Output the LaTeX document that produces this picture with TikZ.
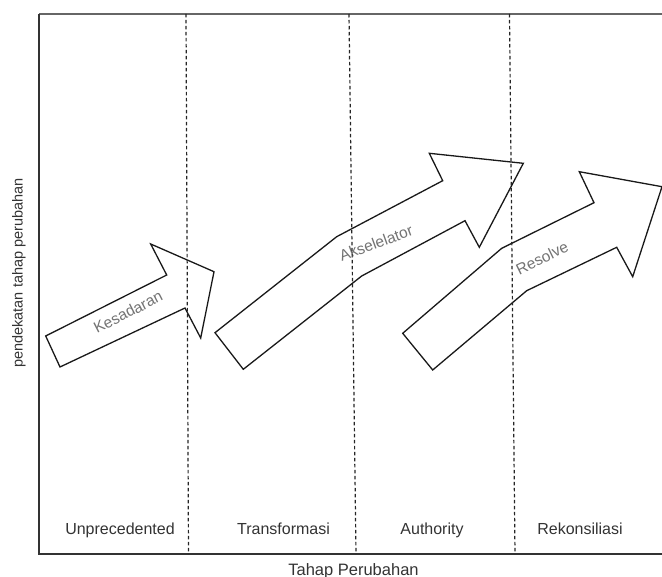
\documentclass[tikz,border=0pt]{standalone}
\usepackage{fontspec}
\setmainfont{Liberation Sans}
\usetikzlibrary{positioning}

\begin{document}
\begin{tikzpicture}[x=1pt,y=-1pt,line join=miter,
    phase/.style={text=black!80,font=\fontsize{16}{19}\selectfont,anchor=base},
    flow/.style={draw=black!90,line width=1.3pt},
    flowlabel/.style={text=black!55,font=\fontsize{15.5}{18}\selectfont},
    divider/.style={dashed,dash pattern=on 3.5pt off 2.5pt,line width=1.2pt,draw=black!85}]
    \useasboundingbox (0,0) rectangle (662,577);

    % frame
    \coordinate (tl) at (39,14); \coordinate (bl) at (39,554);
    \coordinate (tr) at (662,14); \coordinate (br) at (662,554);
    \draw[line width=2pt,draw=black!60] (tl) -- (tr);
    \draw[line width=1.5pt,draw=black!80] (tl) -- (bl) -- (br);

    % arrows
    \draw[flow] (45.7,336) -- (166.7,275) -- (150.7,244) -- (214,271.7)
    -- (200.7,338) -- (185,308) -- (60,367) -- cycle;
    \draw[flow] (215,332.7) -- (336.7,236.7) -- (442.7,180.7) -- (429.3,153.3)
    -- (523.3,163.3) -- (479.3,247.3) -- (465,220.7) -- (361.7,276)
    -- (243.3,369.3) -- cycle;
    \draw[flow] (402.7,333.3) -- (501.7,248.3) -- (594,202.7) -- (579.3,171.7)
    -- (662,186.7) -- (632.7,276.7) -- (616.7,247.3) -- (526.7,290.7)
    -- (432.7,370) -- cycle;

    \node[flowlabel,rotate=27] (kesadaran) at (128,312) {Kesadaran};
    \node[flowlabel,rotate=20] (akselelator) at (376,243) {Akselelator};
    \node[flowlabel,rotate=26] (resolve) at (542,258) {Resolve};

    % dashed dividers
    \foreach \t/\b [count=\i] in {186/188.5,349/356,509.5/515} {
      \coordinate (d\i) at (\t,14); \coordinate (e\i) at (\b,554);
      \draw[divider] (d\i) -- (e\i);}

    % phases
    \node[phase] (unprecedented) at (120,534.3) {Unprecedented};
    \node[phase] (transformasi) at (283.5,534.3) {Transformasi};
    \node[phase] (authority) at (432,534.3) {Authority};
    \node[phase] (rekonsiliasi) at (580,534.3) {Rekonsiliasi};

    % axis titles
    \node[phase,font=\fontsize{16.5}{19}\selectfont] (xtitle) at (353.5,575) {Tahap Perubahan};
    \node[text=black!80,font=\fontsize{14.5}{17}\selectfont,rotate=90] (ytitle) at (19,273)
    {pendekatan tahap perubahan};

\end{tikzpicture}
\end{document}
